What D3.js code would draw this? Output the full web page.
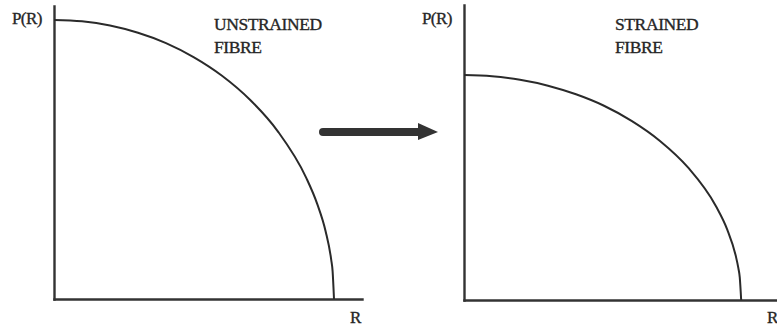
<!DOCTYPE html>
<html>
<head>
<meta charset="utf-8">
<script src="https://cdn.jsdelivr.net/npm/d3@7"></script>
<style>
  html, body { margin: 0; padding: 0; background: #fff; }
  svg { display: block; }
  text { font-family: "Liberation Serif", "Times New Roman", serif; fill: #262626; stroke: #262626; stroke-width: 0.35; }
</style>
</head>
<body>
<svg id="chart" width="777" height="328"></svg>
<script>
// Radius R (relative units) at which P(R) is sampled
const radiusUnstrained = [0, 0.1, 0.2, 0.3, 0.4, 0.5, 0.6, 0.7, 0.8, 0.9, 0.94, 0.97, 0.99, 0.995, 1.0];
const pUnstrained      = [1.0, 0.995, 0.980, 0.954, 0.917, 0.866, 0.800, 0.714, 0.600, 0.436, 0.341, 0.243, 0.141, 0.100, 0];

const radiusStrained = [0, 0.1, 0.2, 0.3, 0.4, 0.5, 0.6, 0.7, 0.8, 0.9, 0.94, 0.97, 0.98, 0.985, 0.99];
const pStrained      = [0.806, 0.802, 0.789, 0.768, 0.737, 0.696, 0.641, 0.570, 0.475, 0.336, 0.253, 0.161, 0.114, 0.081, 0];

const panelTitles = [["UNSTRAINED", "FIBRE"], ["STRAINED", "FIBRE"]];
const yAxisLabel = "P(R)";
const xAxisLabel = "R";

const svg = d3.select("#chart");

const panels = [
  {
    r: radiusUnstrained, p: pUnstrained, title: panelTitles[0],
    x: d3.scaleLinear().domain([0, 1.1]).range([54, 362]),
    y: d3.scaleLinear().domain([0, 1.05]).range([299, 6]),
    yLabelX: 12, titleX: 214, xLabelX: 350
  },
  {
    r: radiusStrained, p: pStrained, title: panelTitles[1],
    x: d3.scaleLinear().domain([0, 1.118]).range([464, 777]),
    y: d3.scaleLinear().domain([0, 1.057]).range([300, 5]),
    yLabelX: 422, titleX: 615, xLabelX: 767
  }
];

panels.forEach(pn => {
  const g = svg.append("g");
  const x0 = pn.x.range()[0];
  const y0 = pn.y.range()[0];

  // bare axes: no ticks, just the axis lines
  g.append("g")
    .attr("transform", `translate(0,${y0})`)
    .call(d3.axisBottom(pn.x).tickValues([]).tickSizeOuter(0));
  g.append("g")
    .attr("transform", `translate(${x0},0)`)
    .call(d3.axisLeft(pn.y).tickValues([]).tickSizeOuter(0));
  g.selectAll(".domain")
    .attr("stroke", "#333")
    .attr("stroke-width", 2.4)
    .attr("stroke-linecap", "square");

  // P(R) curve
  const data = pn.r.map((r, i) => ({ r, p: pn.p[i] }));
  const line = d3.line()
    .x(d => pn.x(d.r))
    .y(d => pn.y(d.p))
    .curve(d3.curveMonotoneX);
  g.append("path")
    .datum(data)
    .attr("d", line)
    .attr("fill", "none")
    .attr("stroke", "#2a2a2a")
    .attr("stroke-width", 2);

  // labels
  g.append("text")
    .attr("x", pn.yLabelX).attr("y", 24)
    .attr("font-size", 17)
    .attr("letter-spacing", -0.6)
    .text(yAxisLabel);
  g.append("text")
    .attr("x", pn.xLabelX).attr("y", 323)
    .attr("font-size", 17)
    .text(xAxisLabel);
  pn.title.forEach((t, i) => {
    g.append("text")
      .attr("x", pn.titleX).attr("y", 30 + i * 23)
      .attr("font-size", 17.5)
      .attr("letter-spacing", -0.4)
      .text(t);
  });
});

// arrow between the two states
const arrow = svg.append("g").attr("fill", "#333").attr("stroke", "#333");
arrow.append("line")
  .attr("x1", 323).attr("y1", 132)
  .attr("x2", 424).attr("y2", 132)
  .attr("stroke-width", 8)
  .attr("stroke-linecap", "round");
arrow.append("path")
  .attr("d", "M418,123 L438,132 L418,140 Z")
  .attr("stroke", "none");
</script>
</body>
</html>
